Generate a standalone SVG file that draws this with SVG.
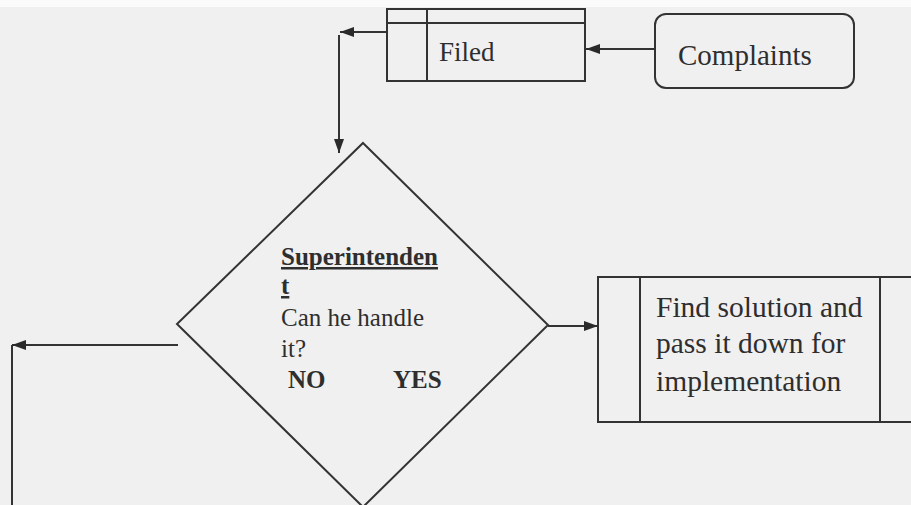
<svg xmlns="http://www.w3.org/2000/svg" width="911" height="505" viewBox="0 0 911 505">
  <style>
    .shape { fill: none; stroke: #333; stroke-width: 2; }
    .link { fill: none; stroke: #333; stroke-width: 2; }
    .lbl { font-family: "Liberation Serif", "Times New Roman", serif; fill: #2e2e2e; }
    .b { font-weight: bold; }
  </style>
  <defs>
    <marker id="arrow" viewBox="0 0 14 10" refX="14" refY="5" markerWidth="14" markerHeight="10" markerUnits="userSpaceOnUse" orient="auto">
      <path d="M0,0 L14,5 L0,10 Z" fill="#2a2a2a"/>
    </marker>
  </defs>

  <rect x="0" y="0" width="911" height="505" fill="#f0f0f0"/>
  <rect x="0" y="0" width="911" height="7" fill="#fbfbfb"/>

  <!-- Filed: stored-data box with header strip and side column -->
  <g id="filed">
    <rect class="shape" x="387" y="9" width="198" height="72"/>
    <line class="shape" x1="387" y1="23" x2="585" y2="23"/>
    <line class="shape" x1="427" y1="9" x2="427" y2="81"/>
    <text class="lbl" x="439" y="61" font-size="27">Filed</text>
  </g>

  <!-- Complaints: rounded start box -->
  <g id="complaints">
    <rect class="shape" x="655" y="14" width="199" height="74" rx="11"/>
    <text class="lbl" x="678" y="65" font-size="29">Complaints</text>
  </g>

  <!-- Superintendent decision diamond -->
  <g id="superintendent">
    <polygon class="shape" points="363,143 548,325 363,507 177,324"/>
    <text class="lbl b" x="281" y="265" font-size="25" text-decoration="underline">Superintenden</text>
    <text class="lbl b" x="281" y="294" font-size="25" text-decoration="underline">t</text>
    <text class="lbl" x="281" y="326" font-size="25">Can he handle</text>
    <text class="lbl" x="281" y="357" font-size="25">it?</text>
    <text class="lbl b" x="288" y="388" font-size="25">NO</text>
    <text class="lbl b" x="393" y="388" font-size="25">YES</text>
  </g>

  <!-- Find solution: process box running off the right edge -->
  <g id="find-solution">
    <polyline class="shape" points="915,277 598,277 598,422 915,422"/>
    <line class="shape" x1="640" y1="277" x2="640" y2="422"/>
    <line class="shape" x1="880" y1="277" x2="880" y2="422"/>
    <text class="lbl" x="656" y="317" font-size="29.5">Find solution and</text>
    <text class="lbl" x="656" y="353" font-size="29.5">pass it down for</text>
    <text class="lbl" x="656" y="391" font-size="29.5">implementation</text>
  </g>

  <g id="connectors">
    <line class="link" x1="655" y1="49" x2="586" y2="49" marker-end="url(#arrow)"/>
    <line class="link" x1="387" y1="32" x2="340" y2="32" marker-end="url(#arrow)"/>
    <line class="link" x1="339" y1="35" x2="339" y2="153" marker-end="url(#arrow)"/>
    <line class="link" x1="548" y1="326" x2="598" y2="326" marker-end="url(#arrow)"/>
    <line class="link" x1="178" y1="345" x2="12" y2="345" marker-end="url(#arrow)"/>
    <line class="link" x1="12" y1="345" x2="12" y2="505"/>
  </g>
</svg>
